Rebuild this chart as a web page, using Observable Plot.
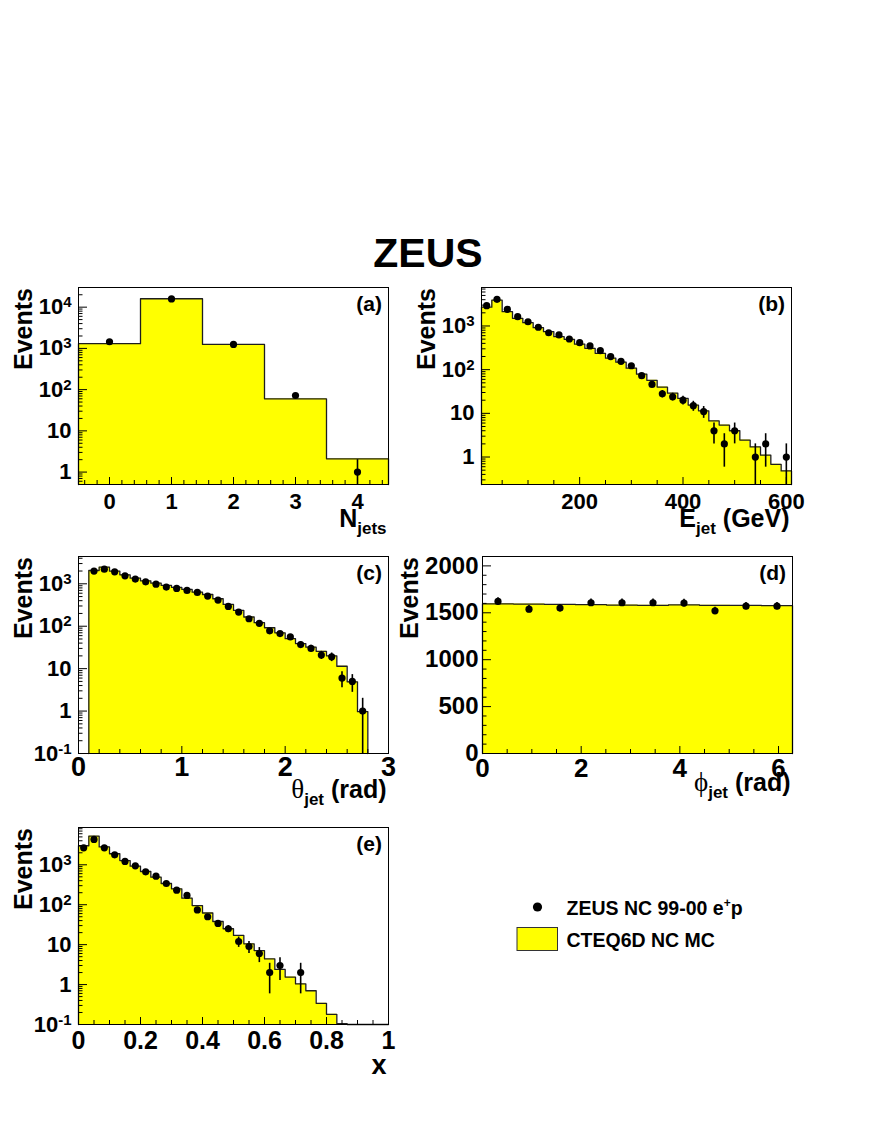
<!DOCTYPE html>
<html>
<head>
<meta charset="utf-8">
<script src="https://cdn.jsdelivr.net/npm/d3@7"></script>
<script src="https://cdn.jsdelivr.net/npm/@observablehq/plot@0.6"></script>
<style>
html, body { margin: 0; padding: 0; background: #fff; }
#page { position: relative; width: 872px; height: 1128px; overflow: hidden; background: #fff;
  font-family: "Liberation Sans", Arial, Helvetica, sans-serif; }
#page svg.panel { position: absolute; }
#overlay { position: absolute; left: 0; top: 0; }
</style>
</head>
<body>
<div id="page"></div>
<script>
// ---------------- DATA ----------------
// (a) number of jets
const aEdges = [-0.5, 0.5, 1.5, 2.5, 3.5, 4.5];
const aMC = [1300, 16000, 1250, 60, 2.1];
const aData = [1450, 15850, 1250, 72, 1];
const aXTicks = [0, 1, 2, 3, 4];
const aXLabels = ["0", "1", "2", "3", "4"];
const aYTicks = [1, 10, 100, 1000, 10000];
const aYLabels = ["1", "10", "10^2", "10^3", "10^4"];

// (b) jet energy (GeV)
const bEdges = [10, 30, 50, 70, 90, 110, 130, 150, 170, 190, 210, 230, 250, 270, 290, 310,
  330, 350, 370, 390, 410, 430, 450, 470, 490, 510, 530, 550, 570, 590, 610];
const bMC = [2700, 3900, 2120, 1500, 1190, 915, 740, 570, 495, 383, 308, 237, 183, 148, 108,
  79, 57, 40, 29, 22, 15.5, 11.4, 6.7, 5.4, 4.0, 2.45, 1.7, 1.1, 0.68, 0.48];
const bData = [2920, 4080, 2410, 1630, 1250, 935, 700, 623, 504, 415, 349, 272, 199, 155, 123,
  73, 46, 28, 24, 20, 15, 11, 4, 2, 4, 0, 1, 2, 0, 1];
const bXTicks = [200, 400, 600];
const bXLabels = ["200", "400", "600"];
const bYTicks = [1, 10, 100, 1000];
const bYLabels = ["1", "10", "10^2", "10^3"];

// (c) jet polar angle (rad)
const cEdges = [0.1, 0.2, 0.3, 0.4, 0.5, 0.6, 0.7, 0.8, 0.9, 1.0, 1.1, 1.2, 1.3, 1.4, 1.5,
  1.6, 1.7, 1.8, 1.9, 2.0, 2.1, 2.2, 2.3, 2.4, 2.5, 2.6, 2.7, 2.8];
const cMC = [2060, 2470, 1985, 1630, 1360, 1177, 1036, 914, 820, 736, 636, 560, 444, 327, 236,
  165, 121, 92, 70, 51, 39, 32, 25.6, 20, 11.4, 4.9, 0.97];
const cData = [1990, 2210, 1915, 1540, 1290, 1115, 980, 835, 777, 697, 625, 513, 413, 293, 215,
  150, 117, 78, 67, 56, 37, 30, 21, 19, 6, 5, 1];
const cXTicks = [0, 1, 2, 3];
const cXLabels = ["0", "1", "2", "3"];
const cYTicks = [0.1, 1, 10, 100, 1000];
const cYLabels = ["10^-1", "1", "10", "10^2", "10^3"];

// (d) jet azimuth (rad)
const dEdges = [0, 0.6283, 1.2566, 1.8850, 2.5133, 3.1416, 3.7699, 4.3982, 5.0265, 5.6549, 6.2832];
const dMC = [1596, 1593, 1589, 1586, 1582, 1580, 1584, 1580, 1578, 1576];
const dData = [1621, 1539, 1550, 1607, 1607, 1607, 1604, 1521, 1571, 1571];
const dXTicks = [0, 2, 4, 6];
const dXLabels = ["0", "2", "4", "6"];
const dYTicks = [0, 500, 1000, 1500, 2000];
const dYLabels = ["0", "500", "1000", "1500", "2000"];

// (e) Bjorken x
const eEdges = d3.range(31).map(i => i / 30);
const eMC = [3000, 5200, 2800, 1890, 1280, 925, 680, 490, 340, 250, 146, 95, 62, 38, 25,
  17, 10.5, 7.1, 4.4, 2.4, 1.54, 1.04, 0.7, 0.34, 0.18, 0.105, 0, 0, 0, 0];
const eData = [2670, 4330, 2670, 1783, 1213, 944, 667, 519, 340, 231, 171, 74, 50, 34, 25,
  12, 9, 6, 2, 3, 0, 2, 0, 0, 0, 0, 0, 0, 0, 0];
const eXTicks = [0, 0.2, 0.4, 0.6, 0.8, 1];
const eXLabels = ["0", "0.2", "0.4", "0.6", "0.8", "1"];
const eYTicks = [0.1, 1, 10, 100, 1000];
const eYLabels = ["10^-1", "1", "10", "10^2", "10^3"];

const titleText = "ZEUS";
const legendData = "ZEUS NC 99-00 e^+p";
const legendMC = "CTEQ6D NC MC";

// ---------------- LAYOUT ----------------
const FONT = '"Liberation Sans", Arial, Helvetica, sans-serif';
const SERIF = '"Liberation Serif", "DejaVu Serif", serif';
const FW = 310, FH = 197, ML = 80, MR = 30, MT = 10, MB = 70;
const page = document.getElementById("page");

function logMinor(domain) {
  const out = [];
  for (let p = Math.floor(Math.log10(domain[0])); p <= Math.ceil(Math.log10(domain[1])); p++)
    for (let k = 2; k <= 9; k++) {
      const v = k * Math.pow(10, p);
      if (v >= domain[0] && v <= domain[1]) out.push(v);
    }
  return out;
}
function linMinor(domain, step, majors) {
  const out = [];
  for (let i = Math.ceil(domain[0] / step - 1e-9); i * step <= domain[1] + 1e-9; i++) {
    const v = +(i * step).toFixed(10);
    if (!majors.some(m => Math.abs(m - v) < 1e-9)) out.push(v);
  }
  return out;
}

function supify(sel, base, supSize, raise) {
  sel.each(function () {
    const t = this.textContent;
    const m = t.match(/^([^\^]+)\^(.+)$/);
    if (!m) return;
    const s = d3.select(this);
    s.text(null);
    s.append("tspan").text(m[1]);
    s.append("tspan").attr("font-size", supSize).attr("dy", -raise).text(m[2]);
  });
}

function panel(cfg) {
  const { left, top, edges, mc, data, xDomain, yDomain, yLog, xTicks, xLabels, yTicks, yLabels,
    xMinorStep, yMinorStep, xFont, yFont, xPad, yPad, tag } = cfg;
  const bottom = yDomain[0];
  const outline = [{ x: edges[0], y: bottom }];
  mc.forEach((v, i) => {
    const y = v > 0 ? v : bottom;
    outline.push({ x: edges[i], y }, { x: edges[i + 1], y });
  });
  outline.push({ x: edges[edges.length - 1], y: bottom });
  const pts = data.map((v, i) => ({ x: (edges[i] + edges[i + 1]) / 2, v })).filter(d => d.v > 0);
  const xMinor = linMinor(xDomain, xMinorStep, xTicks);
  const yMinor = yLog ? logMinor(yDomain) : linMinor(yDomain, yMinorStep, yTicks);

  const svg = Plot.plot({
    width: ML + FW + MR, height: MT + FH + MB,
    marginLeft: ML, marginRight: MR, marginTop: MT, marginBottom: MB,
    x: { domain: xDomain },
    y: { type: yLog ? "log" : "linear", domain: yDomain },
    style: { fontFamily: FONT, fontWeight: "bold", fontSize: "22px", background: "transparent", overflow: "visible" },
    marks: [
      Plot.areaY(outline, { x: "x", y1: bottom, y2: "y", fill: "#ffff00", curve: "linear" }),
      Plot.line(outline, { x: "x", y: "y", stroke: "#1e1e1e", strokeWidth: 1.3 }),
      Plot.ruleX(pts, { x: "x", y1: d => Math.max(d.v - Math.sqrt(d.v), bottom), y2: d => d.v + Math.sqrt(d.v),
        stroke: "#000", strokeWidth: 1.6, clip: true }),
      Plot.dot(pts, { x: "x", y: "v", r: 3.6, fill: "#000", stroke: null }),
      Plot.ruleX(xTicks.filter(d => d >= xDomain[0] && d <= xDomain[1]), { insetTop: FH - 7, stroke: "#000" }),
      Plot.ruleX(xMinor, { insetTop: FH - 4, stroke: "#000" }),
      Plot.ruleY(yTicks, { insetRight: FW - 9, stroke: "#000" }),
      Plot.ruleY(yMinor, { insetRight: FW - 4.5, stroke: "#000" }),
      Plot.frame({ stroke: "#000", strokeWidth: 1 }),
      Plot.axisX(xTicks, { tickSize: 0, tickPadding: xPad, fontSize: xFont, fontWeight: "bold",
        tickFormat: d => xLabels[xTicks.indexOf(d)], label: null }),
      Plot.axisY(yTicks, { tickSize: 0, tickPadding: yPad, fontSize: yFont, fontWeight: "bold",
        tickFormat: d => yLabels[yTicks.indexOf(d)], label: null })
    ]
  });
  svg.classList.add("panel");
  svg.style.left = (left - ML) + "px";
  svg.style.top = (top - MT) + "px";
  const s = d3.select(svg);
  supify(s.selectAll('g[aria-label="y-axis tick label"] text'), "", 15, 7);
  // panel tag
  s.append("text").attr("x", ML + FW - 6).attr("y", MT + 23.5).attr("text-anchor", "end")
    .attr("font-size", 21).attr("font-weight", "bold").attr("font-family", FONT).text(tag);
  // y title
  s.append("text").attr("transform", `translate(${ML + cfg.yTitleDx},${MT + 1}) rotate(-90)`)
    .attr("text-anchor", "end").attr("font-size", 25).attr("font-weight", "bold")
    .attr("font-family", FONT).text("Events");
  // x title
  const xt = s.append("text").attr("x", ML + FW - 1.5).attr("y", MT + FH + cfg.xTitleDy)
    .attr("text-anchor", "end").attr("font-size", 25).attr("font-weight", "bold").attr("font-family", FONT);
  cfg.xTitle(xt);
  page.appendChild(svg);
}

function sub(t, main, s, unit, mainFont, mainWeight, mainSize) {
  const m = t.append("tspan").text(main);
  if (mainFont) m.attr("font-family", mainFont).attr("font-weight", mainWeight).attr("font-size", mainSize);
  t.append("tspan").attr("font-size", 17).attr("dy", 7).text(s);
  if (unit) t.append("tspan").attr("dy", -7).text(unit);
}

panel({ tag: "(a)", left: 78, top: 287, edges: aEdges, mc: aMC, data: aData,
  xDomain: [-0.5, 4.5], yDomain: [0.5, 30000], yLog: true,
  xTicks: aXTicks, xLabels: aXLabels, yTicks: aYTicks, yLabels: aYLabels,
  xMinorStep: 0.2, xFont: 22, yFont: 22, xPad: 9, yPad: 7, yTitleDx: -46, xTitleDy: 43,
  xTitle: t => sub(t, "N", "jets", null) });

panel({ tag: "(b)", left: 481, top: 287, edges: bEdges, mc: bMC, data: bData,
  xDomain: [10, 610], yDomain: [0.235, 7600], yLog: true,
  xTicks: bXTicks, xLabels: bXLabels, yTicks: bYTicks, yLabels: bYLabels,
  xMinorStep: 50, xFont: 22, yFont: 22, xPad: 9, yPad: 7, yTitleDx: -46, xTitleDy: 43,
  xTitle: t => sub(t, "E", "jet", " (GeV)") });

panel({ tag: "(c)", left: 78, top: 556, edges: cEdges, mc: cMC, data: cData,
  xDomain: [0, 3], yDomain: [0.1, 4400], yLog: true,
  xTicks: cXTicks, xLabels: cXLabels, yTicks: cYTicks, yLabels: cYLabels,
  xMinorStep: 0.2, xFont: 27, yFont: 22, xPad: 3, yPad: 7, yTitleDx: -46, xTitleDy: 45,
  xTitle: t => sub(t, "\u03B8", "jet", " (rad)", SERIF, "normal", 27) });

panel({ tag: "(d)", left: 482, top: 556, edges: dEdges, mc: dMC, data: dData,
  xDomain: [0, 2 * Math.PI], yDomain: [0, 2100], yLog: false,
  xTicks: dXTicks, xLabels: dXLabels, yTicks: dYTicks, yLabels: dYLabels,
  xMinorStep: 0.5, yMinorStep: 100, xFont: 26, yFont: 24, xPad: 5, yPad: 4, yTitleDx: -64, xTitleDy: 38,
  xTitle: t => sub(t, "\u03D5", "jet", " (rad)", SERIF, "normal", 27) });

panel({ tag: "(e)", left: 78, top: 827, edges: eEdges, mc: eMC, data: eData,
  xDomain: [0, 1], yDomain: [0.1, 8600], yLog: true,
  xTicks: eXTicks, xLabels: eXLabels, yTicks: eYTicks, yLabels: eYLabels,
  xMinorStep: 0.05, xFont: 25, yFont: 22, xPad: 7, yPad: 7, yTitleDx: -46, xTitleDy: 50,
  xTitle: t => t.attr("font-size", 27).text("x") });

// ---------------- TITLE & LEGEND ----------------
const ov = d3.select(page).append("svg").attr("id", "overlay").attr("width", 872).attr("height", 1128)
  .style("font-family", FONT).style("font-weight", "bold");
ov.append("text").attr("x", 428).attr("y", 266.5).attr("text-anchor", "middle")
  .attr("font-size", 41).text(titleText);
ov.append("circle").attr("cx", 537.5).attr("cy", 907).attr("r", 4.6).attr("fill", "#000");
const lt = ov.append("text").attr("x", 566.5).attr("y", 914.5).attr("font-size", 19.5);
supify(lt.text(legendData.split("^")[0] + "^" + legendData.split("^")[1].slice(0, 1)), "", 12, 8);
lt.append("tspan").attr("dy", 8).text(legendData.split("^")[1].slice(1));
ov.append("rect").attr("x", 517).attr("y", 927.5).attr("width", 40.5).attr("height", 23)
  .attr("fill", "#ffff00").attr("stroke", "#333").attr("stroke-width", 1);
ov.append("text").attr("x", 566.5).attr("y", 946.5).attr("font-size", 19.5).text(legendMC);
</script>
</body>
</html>
